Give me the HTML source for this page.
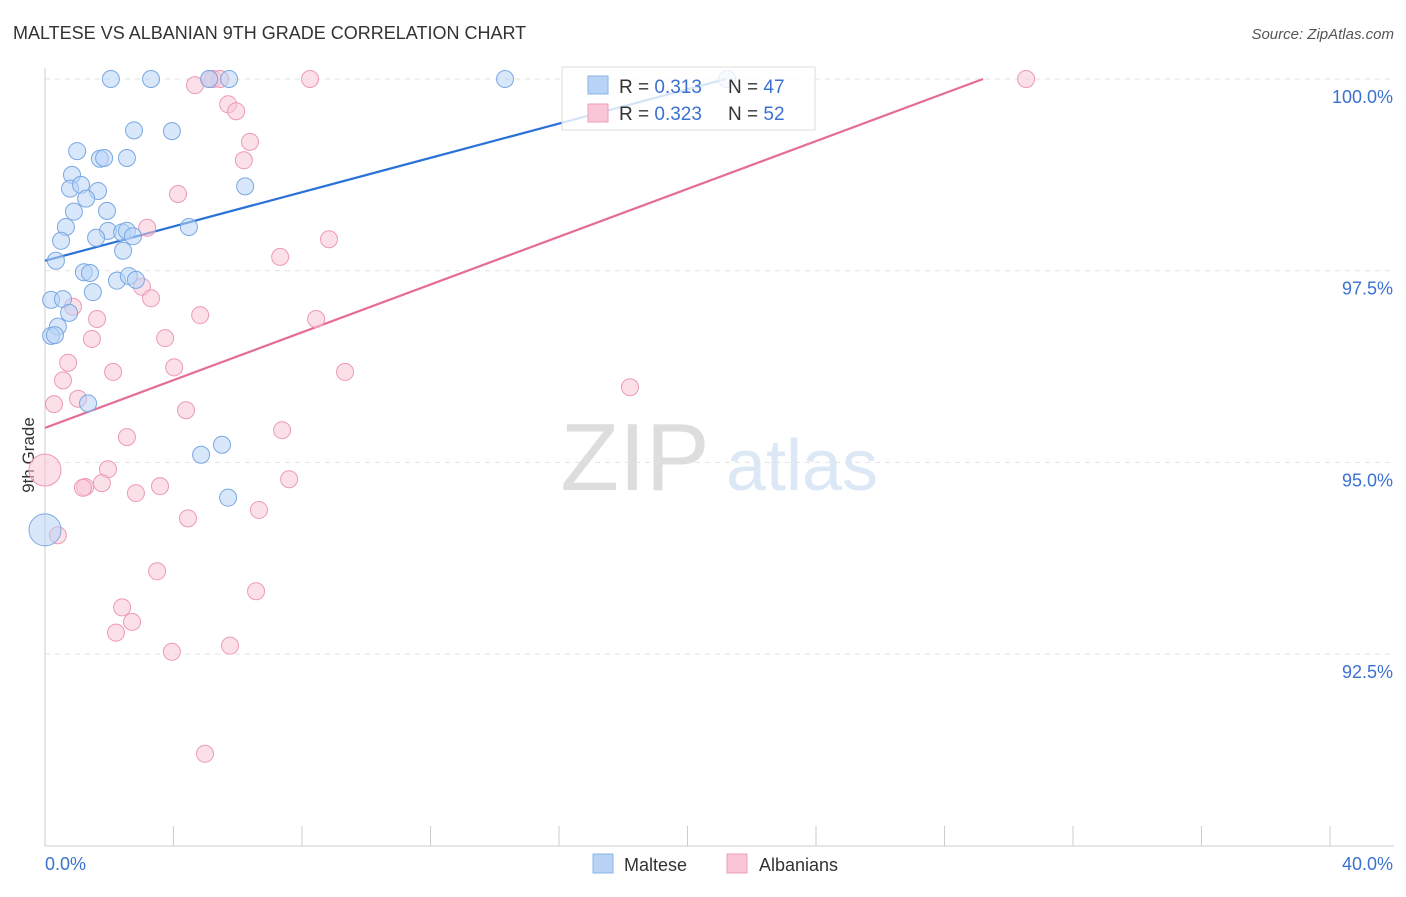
<!DOCTYPE html>
<html><head><meta charset="utf-8">
<style>
body{margin:0;background:#fff;font-family:"Liberation Sans",sans-serif;}
svg text{font-family:"Liberation Sans",sans-serif;}
</style></head>
<body>
<svg id="chart" width="1406" height="892" xmlns="http://www.w3.org/2000/svg">
<text x="13" y="39" font-size="18" fill="#333">MALTESE VS ALBANIAN 9TH GRADE CORRELATION CHART</text>
<text x="1394" y="39" font-size="15" fill="#555" font-style="italic" text-anchor="end">Source: ZipAtlas.com</text>
<text x="34" y="455" font-size="17" fill="#333" text-anchor="middle" transform="rotate(-90 34 455)">9th Grade</text>
<g>
<text x="635" y="490" font-size="96" fill="#ddd" font-family="Liberation Serif" text-anchor="middle">ZIP</text>
<text x="802" y="490" font-size="72" fill="#dce8f5" text-anchor="middle">atlas</text>
</g>
<g id="grid"></g><g id="axes"></g><g id="lines"></g><g id="pts"></g>
<g>
<rect x="562" y="67" width="253" height="63" fill="#fff" fill-opacity="0.8" stroke="#ddd"/>
<rect x="588" y="76" width="20" height="18" fill="#b8d3f5" stroke="#8ab4e8"/>
<rect x="588" y="104" width="20" height="18" fill="#f8c6d6" stroke="#ee9fba"/>
<text x="619" y="93" font-size="19" fill="#333">R = <tspan fill="#3b72d0">0.313</tspan></text>
<text x="728" y="93" font-size="19" fill="#333">N = <tspan fill="#3b72d0">47</tspan></text>
<text x="619" y="120" font-size="19" fill="#333">R = <tspan fill="#3b72d0">0.323</tspan></text>
<text x="728" y="120" font-size="19" fill="#333">N = <tspan fill="#3b72d0">52</tspan></text>
</g>
<g>
<rect x="593" y="854" width="20" height="19" fill="#b8d3f5" stroke="#8ab4e8"/>
<text x="624" y="871" font-size="18" fill="#333">Maltese</text>
<rect x="727" y="854" width="20" height="19" fill="#f8c6d6" stroke="#ee9fba"/>
<text x="759" y="871" font-size="18" fill="#333">Albanians</text>
</g>
</svg>
<script>
const xTicks=[0,4,8,12,16,20,24,28,32,36,40];
const yTicks=[100,97.5,95,92.5];
const yTickLabels=["100.0%","97.5%","95.0%","92.5%"];
const xEndLabels=["0.0%","40.0%"];
const malteseX=[2.05,3.30,5.11,5.73,14.32,21.23,2.77,3.95,1.00,1.71,1.84,2.55,0.84,0.78,1.12,1.65,6.23,1.28,0.90,1.93,0.65,4.48,1.96,2.40,2.55,2.74,0.50,1.59,2.43,0.34,1.21,1.40,2.24,2.61,2.83,1.49,0.19,0.56,0.75,0.40,0.19,0.31,1.34,5.51,4.86,5.70,0];
const malteseY=[100,100,100,100,100,100,99.33,99.32,99.06,98.96,98.97,98.97,98.75,98.57,98.62,98.54,98.60,98.44,98.27,98.28,98.07,98.07,98.02,98.00,98.02,97.95,97.89,97.93,97.76,97.63,97.48,97.47,97.37,97.43,97.38,97.22,97.12,97.13,96.95,96.77,96.65,96.66,95.77,95.23,95.10,94.54,94.12];
const albX=[8.25,30.54,5.23,5.45,5.11,4.67,5.70,5.95,6.38,6.19,4.14,3.18,8.84,7.32,3.02,3.30,0.87,1.62,4.83,8.44,1.46,3.74,0.72,4.02,2.12,9.34,0.56,18.21,1.03,0.28,4.39,7.38,2.55,0,1.96,7.60,1.77,1.25,1.18,3.58,2.83,6.66,4.45,0.40,3.49,6.57,2.40,2.71,2.21,5.76,3.95,4.98];
const albY=[100,100,100,100,100,99.92,99.67,99.58,99.18,98.94,98.50,98.06,97.91,97.68,97.29,97.14,97.03,96.87,96.92,96.87,96.61,96.62,96.30,96.24,96.18,96.18,96.07,95.98,95.83,95.76,95.68,95.42,95.33,94.90,94.91,94.78,94.73,94.68,94.67,94.69,94.60,94.38,94.27,94.05,93.58,93.32,93.11,92.92,92.78,92.61,92.53,91.20];
const malteseTrend=[[0,97.63],[21.2,100]];
const albTrend=[[0,95.45],[29.2,100]];
const NS="http://www.w3.org/2000/svg";
const X=v=>45+(v/40)*1285;
const Y=v=>79+(100-v)/2.5*191.7;
function mk(tag,at,parent){const e=document.createElementNS(NS,tag);for(const k in at)e.setAttribute(k,at[k]);document.getElementById(parent).appendChild(e);return e;}
yTicks.forEach((t,i)=>{
 const g=mk('line',{x1:45,x2:1394,y1:Y(t),y2:Y(t),stroke:'#e2e2e2','stroke-dasharray':'5,5'},'grid');
 
 
 const l=mk('text',{x:1393,y:Y(t)+24,'font-size':18,fill:'#3b72d0','text-anchor':'end'},'axes');
 l.textContent=yTickLabels[i];
 
 
});
const ax=mk('line',{x1:45,x2:45,y1:68,y2:846,stroke:'#ccc'},'axes');


const bx=mk('line',{x1:45,x2:1394,y1:846,y2:846,stroke:'#ccc'},'axes');


xTicks.forEach(t=>{
 const tk=mk('line',{x1:X(t),x2:X(t),y1:826,y2:846,stroke:'#ccc'},'axes');
 
 
});
const xl0=mk('text',{x:45,y:870,'font-size':18,fill:'#3b72d0'},'axes');xl0.textContent=xEndLabels[0];


const xl1=mk('text',{x:1393,y:870,'font-size':18,fill:'#3b72d0','text-anchor':'end'},'axes');xl1.textContent=xEndLabels[1];


function pts(xs,ys,fill,stroke,name){
 xs.forEach((x,i)=>{
  const r=(x===0)?16:8.5;
  const c=mk('circle',{cx:X(x),cy:Y(ys[i]),r:r,fill:fill,'fill-opacity':0.55,stroke:stroke,'stroke-width':1},'pts');
  
  
 });
}
pts(albX,albY,'#f8c6d6','#ec9ab7','albanians-point');
pts(malteseX,malteseY,'#b8d3f5','#7aa8e2','maltese-point');
const l1=mk('line',{x1:X(malteseTrend[0][0]),y1:Y(malteseTrend[0][1]),x2:X(malteseTrend[1][0]),y2:Y(malteseTrend[1][1]),stroke:'#2a72d8','stroke-width':2.2},'lines');


const l2=mk('line',{x1:X(albTrend[0][0]),y1:Y(albTrend[0][1]),x2:X(albTrend[1][0]),y2:Y(albTrend[1][1]),stroke:'#e56b98','stroke-width':2.2},'lines');


</script>
</body></html>
